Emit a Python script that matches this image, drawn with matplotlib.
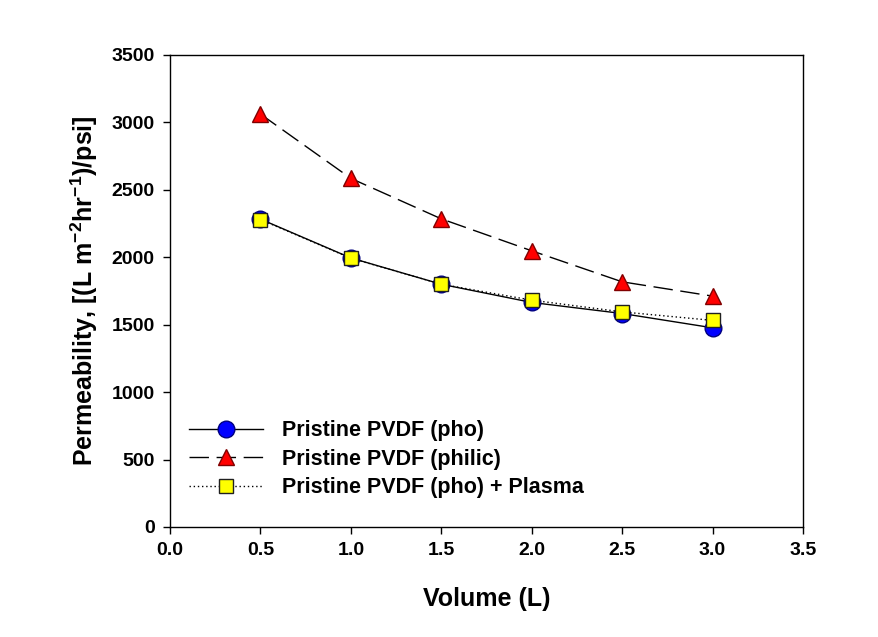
import matplotlib
matplotlib.use("Agg")
from matplotlib import pyplot as plt

volume = [0.5, 1.0, 1.5, 2.0, 2.5, 3.0]
pho = [2283, 1995, 1800, 1665, 1583, 1477]
philic = [3062, 2585, 2285, 2048, 1818, 1712]
pho_plasma = [2280, 1993, 1800, 1682, 1595, 1532]

plt.rcParams['font.family'] = ['Liberation Sans', 'DejaVu Sans']
plt.rcParams['font.weight'] = 'bold'
plt.rcParams['mathtext.fontset'] = 'custom'
plt.rcParams['mathtext.rm'] = 'Liberation Sans:bold'
plt.rcParams['mathtext.bf'] = 'Liberation Sans:bold'

fig = plt.figure(figsize=(8.79, 6.37), dpi=100)
ax = fig.add_axes([0.1934, 0.1727, 0.7201, 0.741])

ax.plot(volume, pho, color="black", lw=1, marker="o", markersize=12,
        markerfacecolor="#0000ff", markeredgecolor="#000080", markeredgewidth=1,
        label="Pristine PVDF (pho)")
ax.plot(volume, philic, color="black", lw=1, dashes=(14, 5.5), marker="^", markersize=12,
        markerfacecolor="#ff0000", markeredgecolor="#800000", markeredgewidth=1,
        label="Pristine PVDF (philic)")
ax.plot(volume, pho_plasma, color="black", lw=1, linestyle=(0, (1, 2)), marker="s", markersize=10,
        markerfacecolor="#ffff00", markeredgecolor="#202020", markeredgewidth=1,
        label="Pristine PVDF (pho) + Plasma")

ax.set_xlim(0, 3.5)
ax.set_ylim(0, 3500)
ax.set_xticks([0, 0.5, 1.0, 1.5, 2.0, 2.5, 3.0, 3.5])
ax.set_xticklabels(["0.0", "0.5", "1.0", "1.5", "2.0", "2.5", "3.0", "3.5"])
ax.set_yticks(range(0, 3501, 500))
ax.tick_params(direction="out", length=5, width=1, labelsize=14, pad=6)
for lab in ax.get_xticklabels() + ax.get_yticklabels():
    lab.set_fontweight("bold")
for s in ax.spines.values():
    s.set_linewidth(1)

ax.set_xlabel("Volume (L)", fontsize=18, fontweight="bold", labelpad=20)
ax.set_ylabel(r"Permeability, [(L m$^{\mathrm{-2}}$hr$^{\mathrm{-1}}$)/psi]",
              fontsize=18, fontweight="bold", labelpad=8)

leg = ax.legend(loc="lower left", bbox_to_anchor=(0.0, 0.02), frameon=False,
                prop={"size": 15.5, "weight": "bold"}, handlelength=3.4,
                handletextpad=0.9, labelspacing=0.35, borderaxespad=0.5)

fig.savefig("out.png", dpi=100)
